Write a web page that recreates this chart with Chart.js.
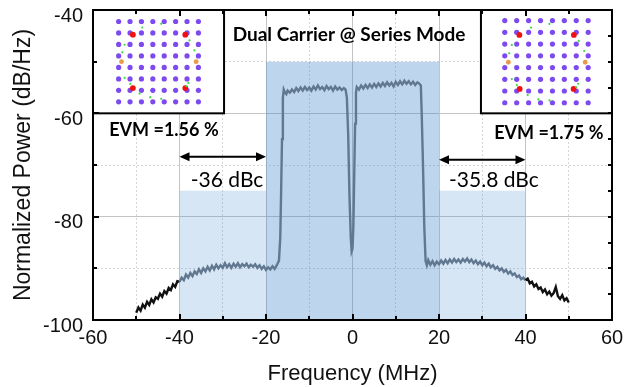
<!DOCTYPE html>
<html>
<head>
<meta charset="utf-8">
<script src="https://cdn.jsdelivr.net/npm/chart.js@4.4.1/dist/chart.umd.min.js"></script>
<style>
  html, body { margin: 0; padding: 0; background: #fff; }
  #wrap { position: relative; width: 633px; height: 387px; }
</style>
</head>
<body>
<div id="wrap"><canvas id="spec" width="633" height="387"></canvas></div>
<script>
// ---- Measured spectrum (frequency offset in MHz, normalized PSD in dB/Hz) ----
const spectrumFreq = [
  -50, -49.5, -49, -48.5, -48, -47.5, -47, -46.5, -46, -45.5,
  -45, -44.5, -44, -43.5, -43, -42.5, -42, -41.5, -41, -40.5, -40,
  -39.5, -39, -38.5, -38, -37.5, -37, -36.5, -36, -35.5, -35,
  -34.5, -34, -33.5, -33, -32.5, -32, -31.5, -31, -30.5, -30,
  -29.5, -29, -28.5, -28, -27.5, -27, -26.5, -26, -25.5, -25,
  -24.5, -24, -23.5, -23, -22.5, -22, -21.5, -21, -20.5, -20,
  -19.5, -19, -18.5, -18, -17.5, -17,
  -16.7, -16.5, -16.3, -16.1, -15.9, -15.6, -15.3, -15,
  -14.5, -14, -13.5, -13, -12.5, -12, -11.5, -11, -10.5, -10,
  -9.5, -9, -8.5, -8, -7.5, -7, -6.5, -6, -5.5, -5,
  -4.5, -4, -3.5, -3, -2.5, -2,
  -1.6, -1.3, -1.0, -0.7, -0.4, -0.2, 0, 0.2, 0.4, 0.6, 0.8, 1.0,
  1.5, 2, 2.5, 3, 3.5, 4, 4.5, 5, 5.5, 6,
  6.5, 7, 7.5, 8, 8.5, 9, 9.5, 10, 10.5, 11,
  11.5, 12, 12.5, 13, 13.5, 14, 14.5, 15, 15.5,
  15.8, 16.0, 16.3, 16.6, 16.9, 17.2,
  17.5, 18, 18.5, 19, 19.5, 20, 20.5, 21, 21.5, 22,
  22.5, 23, 23.5, 24, 24.5, 25, 25.5, 26, 26.5, 27,
  27.5, 28, 28.5, 29, 29.5, 30, 30.5, 31, 31.5, 32,
  32.5, 33, 33.5, 34, 34.5, 35, 35.5, 36, 36.5, 37,
  37.5, 38, 38.5, 39, 39.5, 40,
  40.5, 41, 41.5, 42, 42.5, 43, 43.5, 44, 44.5, 45,
  45.5, 46, 46.5, 47, 47.5, 48, 48.5, 49, 49.5, 50
];
const spectrumPower = [
  -98.6, -97.6, -98.2, -97.0, -97.6, -96.5, -97.1, -96.0, -96.6, -95.6,
  -95.9, -94.9, -95.5, -94.4, -94.9, -93.8, -94.2, -93.1, -93.6, -92.5, -92.6,
  -91.8, -92.3, -91.2, -91.8, -90.9, -91.5, -90.6, -91.1, -90.2, -90.9,
  -90.0, -90.6, -89.7, -90.4, -89.5, -90.2, -89.3, -90.0, -89.4, -89.9,
  -89.0, -89.8, -89.2, -89.9, -89.1, -89.7, -89.0, -89.8, -89.2, -89.6,
  -89.1, -89.8, -89.3, -89.7, -89.2, -89.9, -89.4, -90.1, -89.6, -90.3,
  -89.8, -90.2, -89.6, -90.1, -89.4, -88.5,
  -84.0, -75.0, -65.0, -57.0, -55.4, -56.0, -56.3, -55.6,
  -56.0, -55.4, -55.9, -55.1, -55.7, -55.0, -55.6, -54.9, -55.5, -55.0,
  -55.6, -54.8, -55.4, -54.6, -55.3, -54.9, -55.5, -54.7, -55.3, -54.9,
  -55.6, -54.8, -55.4, -55.0, -55.5, -55.1,
  -55.4, -57.0, -64.0, -76.0, -84.0, -86.7, -86.2, -82.0, -72.0, -62.0, -56.0, -54.9,
  -55.4, -54.6, -55.2, -54.5, -55.1, -54.4, -55.0, -54.3, -54.9, -54.2,
  -54.8, -54.1, -54.7, -54.0, -54.6, -54.1, -54.8, -53.9, -54.5, -53.8,
  -54.4, -53.7, -54.3, -53.8, -54.4, -53.9, -54.5, -54.0, -54.3,
  -54.6, -60.0, -70.0, -82.0, -88.6, -89.4,
  -88.4, -89.3, -88.6, -89.4, -88.7, -89.2, -88.5, -89.1, -88.4, -89.0,
  -88.3, -88.9, -88.2, -88.8, -88.3, -88.9, -88.2, -88.7, -88.1, -88.8,
  -88.3, -89.0, -88.5, -89.2, -88.7, -89.4, -88.9, -89.6, -89.1, -89.8,
  -89.4, -90.1, -89.7, -90.4, -90.0, -90.7, -90.3, -91.0, -90.6, -91.3,
  -91.0, -91.7, -91.4, -92.1, -91.8, -92.3,
  -92.0, -92.9, -92.6, -93.5, -93.1, -94.0, -93.7, -94.6, -94.1, -95.0,
  -94.5, -95.3, -94.8, -93.6, -95.4, -95.9, -95.2, -96.2, -95.8, -96.6
];

// ---- Channel / adjacent-channel bands (MHz) and their mask levels (dB/Hz) ----
const lowerAdjacentBand = [-40, -20];
const upperAdjacentBand = [20, 40];
const adjacentLevel = -75;
const carrierBand = [-20, 20];
const carrierLevel = -50;

// ---- Axis ticks ----
const xTickLabels = [-60, -40, -20, 0, 20, 40, 60];
const yTickLabels = [-100, -80, -60, -40];

// ---- Results ----
const aclrLower = -36;     // dBc
const aclrUpper = -35.8;   // dBc
const evmLower = 1.56;     // %
const evmUpper = 1.75;     // %
const plotTitle = 'Dual Carrier @ Series Mode';

// ---- 64-QAM constellations (I/Q in QAM units) ----
const qamLevels = [-7, -5, -3, -1, 1, 3, 5, 7];
const pilotLowerI = [-4.5, 4.7, -4.5, 4.7];
const pilotLowerQ = [4.7, 4.7, -4.6, -4.6];
const pilotUpperI = [-4.55, 4.6, -4.5, 4.55];
const pilotUpperQ = [4.55, 4.55, -4.65, -4.65];
const refLowerI = [-6.5, 6.6];
const refLowerQ = [0.0, 0.0];
const refUpperI = [-6.4, 6.5];
const refUpperQ = [-0.1, -0.1];
const ringLowerI = [-2.86, 0.47, -5.95, -6.36, -5.95, -4.96, -3.33, -1.46, 0.47, 5.43, 6.30, 5.25, 4.90];
const ringLowerQ = [5.95, 6.59, 2.95, 1.62, -2.83, -3.87, -5.55, -6.18, -6.47, 3.70, 1.97, -3.70, -4.28];
const ringUpperI = [-2.6, 0.5, -5.82, -6.27, -5.82, -4.97, -3.16, -1.36, 0.5, 5.42, 6.33, 5.31, 4.97];
const ringUpperQ = [5.8, 6.43, 2.85, 1.42, -2.96, -3.98, -5.69, -6.43, -6.6, 3.53, 1.82, -3.76, -4.33];

// ---- Layout of the constellation insets, in plot units (MHz, dB/Hz) ----
const X_RANGE = [-60, 60];
const Y_RANGE = [-100, -40];
const insets = {
  lower: { f0: -60, f1: -29.7, p0: -60, p1: -40, halfI: 11.5, halfQ: 9.0 },
  upper: { f0: 29.7, f1: 60, p0: -60, p1: -40, halfI: 11.0, halfQ: 8.8 }
};

// Hidden scale limits that place [-half, half] exactly over [boxMin, boxMax] of the main axis
function insetLimits(mainMin, mainMax, boxMin, boxMax, half) {
  const k = 2 * half / (boxMax - boxMin);
  return { min: -half + (mainMin - boxMin) * k, max: -half + (mainMax - boxMin) * k };
}

const toPoints = (xs, ys) => xs.map((v, i) => ({ x: v, y: ys[i] }));
const qamGrid = [];
qamLevels.forEach(q => qamLevels.forEach(i => qamGrid.push({ x: i, y: q })));

const spectrum = toPoints(spectrumFreq, spectrumPower);
const flat = (band, level) => toPoints(band, band.map(() => level));

const TRACE = '#627890';
const PURPLE = '#7d4af0';
const ADJ_FILL = 'rgba(70,140,210,0.22)';
const CARRIER_FILL = 'rgba(70,135,205,0.35)';
const sansFont = '"Liberation Sans", Arial, sans-serif';
const calloutFont = 'Lato, "Open Sans", sans-serif';

const isMajor = v => Math.abs(v % 20) < 1e-9;

function constellationSets(axisX, axisY, pilotI, pilotQ, refI, refQ, ringI, ringQ) {
  const common = { type: 'scatter', xAxisID: axisX, yAxisID: axisY, showLine: false, borderWidth: 0 };
  return [
    Object.assign({ data: toPoints(ringI, ringQ), backgroundColor: '#3ddc3a', pointRadius: 1.1, order: 0 }, common),
    Object.assign({ data: toPoints(pilotI, pilotQ), backgroundColor: '#f01010', pointRadius: 2.9, order: 1 }, common),
    Object.assign({ data: toPoints(refI, refQ), backgroundColor: '#e89a4a', pointRadius: 2.4, order: 2 }, common),
    Object.assign({ data: qamGrid, backgroundColor: PURPLE, pointRadius: 2.6, order: 3 }, common)
  ];
}

function maskSet(points, color) {
  return { data: points, borderWidth: 0, pointRadius: 0, fill: 'start', backgroundColor: color, order: 9 };
}

function drawDoubleArrow(ctx, x0, x1, y) {
  const head = 10, hw = 4.5;
  ctx.save();
  ctx.strokeStyle = '#000';
  ctx.fillStyle = '#000';
  ctx.lineWidth = 2;
  ctx.beginPath();
  ctx.moveTo(x0 + head - 1, y);
  ctx.lineTo(x1 - head + 1, y);
  ctx.stroke();
  ctx.beginPath();
  ctx.moveTo(x0, y); ctx.lineTo(x0 + head, y - hw); ctx.lineTo(x0 + head, y + hw); ctx.closePath();
  ctx.fill();
  ctx.beginPath();
  ctx.moveTo(x1, y); ctx.lineTo(x1 - head, y - hw); ctx.lineTo(x1 - head, y + hw); ctx.closePath();
  ctx.fill();
  ctx.restore();
}

const decorations = {
  id: 'decorations',
  beforeDatasetsDraw(chart) {
    const { ctx, scales: { x, y } } = chart;
    // white constellation panels with black borders
    Object.values(insets).forEach(b => {
      const l = x.getPixelForValue(b.f0), r = x.getPixelForValue(b.f1);
      const t = y.getPixelForValue(b.p1), btm = y.getPixelForValue(b.p0);
      ctx.save();
      ctx.fillStyle = '#fff';
      ctx.fillRect(l, t, r - l, btm - t);
      ctx.strokeStyle = '#000';
      ctx.lineWidth = 2;
      ctx.strokeRect(l, t, r - l, btm - t);
      ctx.restore();
    });
  },
  afterDatasetsDraw(chart) {
    const { ctx, chartArea: a, scales: { x, y } } = chart;
    ctx.save();
    // inward tick marks on all four sides
    ctx.strokeStyle = '#000';
    ctx.lineWidth = 2;
    ctx.beginPath();
    for (let f = X_RANGE[0]; f <= X_RANGE[1]; f += 10) {
      const px = Math.round(x.getPixelForValue(f));
      const len = isMajor(f) ? 6 : 4;
      ctx.moveTo(px, a.bottom); ctx.lineTo(px, a.bottom - len);
      ctx.moveTo(px, a.top); ctx.lineTo(px, a.top + len);
    }
    for (let p = Y_RANGE[0]; p <= Y_RANGE[1]; p += 10) {
      const py = Math.round(y.getPixelForValue(p));
      const len = isMajor(p) ? 6 : 4;
      ctx.moveTo(a.left, py); ctx.lineTo(a.left + len, py);
    }
    for (let p = Y_RANGE[0]; p <= Y_RANGE[1]; p += 5) {
      const py = Math.round(y.getPixelForValue(p));
      ctx.moveTo(a.right, py); ctx.lineTo(a.right - 4, py);
    }
    ctx.stroke();
    // plot frame
    ctx.strokeRect(a.left, a.top, a.right - a.left, a.bottom - a.top);

    // tick labels
    ctx.fillStyle = '#111';
    ctx.font = '20px ' + sansFont;
    ctx.textAlign = 'right';
    ctx.textBaseline = 'middle';
    yTickLabels.forEach(v => ctx.fillText(String(v), a.left - 10, y.getPixelForValue(v) + 6));
    ctx.textAlign = 'center';
    xTickLabels.forEach(v => ctx.fillText(String(v), x.getPixelForValue(v), a.bottom + 18));

    // ACLR arrows spanning the adjacent channels
    const yArrowL = y.getPixelForValue(-68.4), yArrowU = y.getPixelForValue(-69.0);
    drawDoubleArrow(ctx, x.getPixelForValue(lowerAdjacentBand[0]), x.getPixelForValue(lowerAdjacentBand[1]), yArrowL);
    drawDoubleArrow(ctx, x.getPixelForValue(upperAdjacentBand[0]), x.getPixelForValue(upperAdjacentBand[1]), yArrowU);

    ctx.fillStyle = '#000';
    ctx.textAlign = 'center';
    ctx.textBaseline = 'middle';
    ctx.font = '21px ' + calloutFont;
    ctx.fillText(aclrLower + ' dBc', x.getPixelForValue(-29.0), y.getPixelForValue(-72.9));
    ctx.fillText(aclrUpper + ' dBc', x.getPixelForValue(32.7), y.getPixelForValue(-72.9));

    ctx.font = 'bold 18px ' + calloutFont;
    ctx.fillText('EVM =' + evmLower.toFixed(2) + ' %', x.getPixelForValue(-43.6), y.getPixelForValue(-63.2));
    ctx.fillText('EVM =' + evmUpper.toFixed(2) + ' %', x.getPixelForValue(45.4), y.getPixelForValue(-63.8));

    ctx.font = 'bold 19px ' + calloutFont;
    ctx.fillText(plotTitle, x.getPixelForValue(-0.8), y.getPixelForValue(-44.8));
    ctx.restore();
  }
};

const gridColor = c => isMajor(c.tick.value) ? '#c4c4c4' : '#d6d6d6';
const gridDash = c => isMajor(c.tick.value) ? [] : [2, 2];

const limL = {
  x: insetLimits(X_RANGE[0], X_RANGE[1], insets.lower.f0, insets.lower.f1, insets.lower.halfI),
  y: insetLimits(Y_RANGE[0], Y_RANGE[1], insets.lower.p0, insets.lower.p1, insets.lower.halfQ)
};
const limU = {
  x: insetLimits(X_RANGE[0], X_RANGE[1], insets.upper.f0, insets.upper.f1, insets.upper.halfI),
  y: insetLimits(Y_RANGE[0], Y_RANGE[1], insets.upper.p0, insets.upper.p1, insets.upper.halfQ)
};

new Chart(document.getElementById('spec'), {
  type: 'line',
  data: {
    datasets: [
      ...constellationSets('xL', 'yL', pilotLowerI, pilotLowerQ, refLowerI, refLowerQ, ringLowerI, ringLowerQ),
      ...constellationSets('xU', 'yU', pilotUpperI, pilotUpperQ, refUpperI, refUpperQ, ringUpperI, ringUpperQ),
      {
        data: spectrum,
        borderColor: TRACE,
        borderWidth: 2.4,
        pointRadius: 0,
        tension: 0,
        fill: false,
        order: 5,
        segment: {
          borderColor: c => (c.p0.parsed.x < lowerAdjacentBand[0] || c.p1.parsed.x > upperAdjacentBand[1]) ? '#111' : TRACE
        }
      },
      maskSet(flat(carrierBand, carrierLevel), CARRIER_FILL),
      maskSet(flat(lowerAdjacentBand, adjacentLevel), ADJ_FILL),
      maskSet(flat(upperAdjacentBand, adjacentLevel), ADJ_FILL)
    ]
  },
  options: {
    responsive: false,
    animation: false,
    events: [],
    layout: { padding: { top: 10, right: 21, bottom: 0, left: 0 } },
    plugins: { legend: { display: false }, tooltip: { enabled: false } },
    scales: {
      x: {
        type: 'linear', position: 'bottom', min: X_RANGE[0], max: X_RANGE[1],
        ticks: { stepSize: 10, display: false },
        grid: { color: gridColor, lineWidth: 1, drawTicks: false },
        border: { display: false, dash: gridDash },
        title: { display: true, text: 'Frequency (MHz)', color: '#111',
                 font: { family: sansFont, size: 22 }, padding: { top: 0, bottom: 0 } },
        afterFit: s => { s.height = 67; }
      },
      y: {
        type: 'linear', position: 'left', min: Y_RANGE[0], max: Y_RANGE[1],
        ticks: { stepSize: 10, display: false },
        grid: { color: gridColor, lineWidth: 1, drawTicks: false },
        border: { display: false, dash: gridDash },
        title: { display: true, text: 'Normalized Power (dB/Hz)', color: '#111',
                 font: { family: sansFont, size: 23 }, padding: { top: 10, bottom: 0 } },
        afterFit: s => { s.width = 93; }
      },
      xL: { type: 'linear', axis: 'x', display: false, min: limL.x.min, max: limL.x.max },
      yL: { type: 'linear', axis: 'y', display: false, min: limL.y.min, max: limL.y.max },
      xU: { type: 'linear', axis: 'x', display: false, min: limU.x.min, max: limU.x.max },
      yU: { type: 'linear', axis: 'y', display: false, min: limU.y.min, max: limU.y.max }
    }
  },
  plugins: [decorations]
});
</script>
</body>
</html>
